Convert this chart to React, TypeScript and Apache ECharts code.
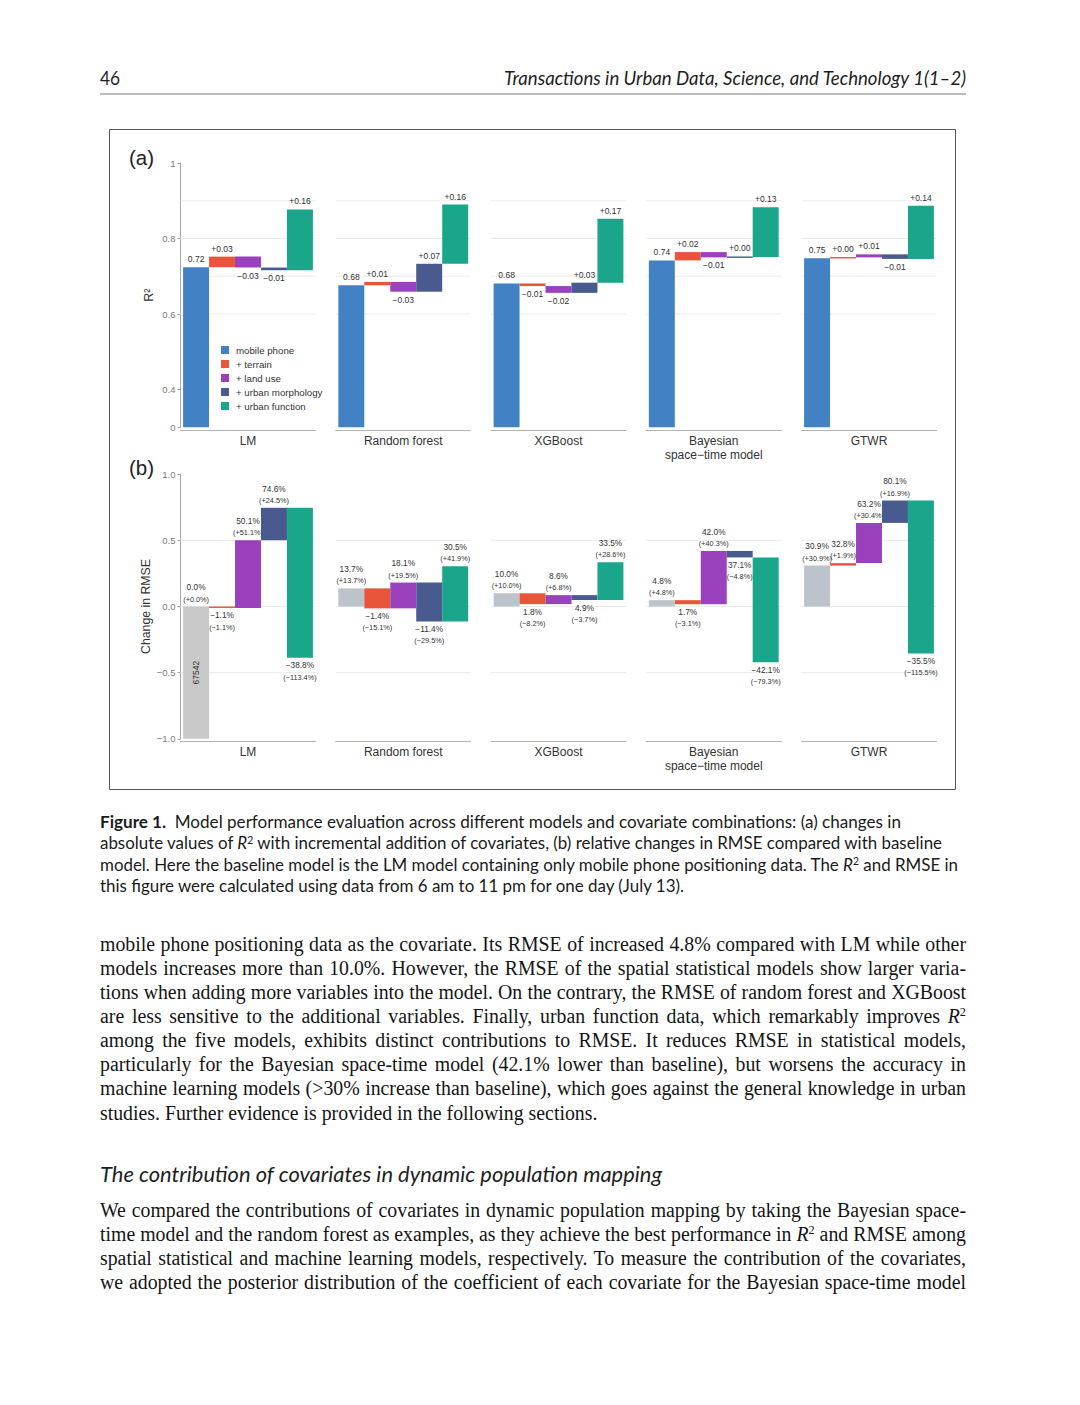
import React, { useEffect, useLayoutEffect, useRef } from "react";
import * as echarts from "echarts";

// ---------------- data ----------------
const MODELS = ["LM", "Random forest", "XGBoost", "Bayesian\nspace\u2212time model", "GTWR"];
const STEPS = ["mobile phone", "+ terrain", "+ land use", "+ urban morphology", "+ urban function"];
const STEP_COLORS = ["#4282c4", "#e9553b", "#9b41bd", "#485a8e", "#19a68b"];
const GREY_LM = "#c9c9c9";
const GREY = "#bdc3ca";

// (a) cumulative R² after each covariate is added
const R2_LM = [0.724, 0.752, 0.723, 0.716, 0.877];
const R2_RF = [0.676, 0.685, 0.659, 0.733, 0.89];
const R2_XGB = [0.681, 0.674, 0.656, 0.683, 0.852];
const R2_BST = [0.742, 0.764, 0.75, 0.751, 0.883];
const R2_GTWR = [0.748, 0.75, 0.758, 0.746, 0.887];

// (b) relative change in RMSE vs. baseline (%), level and step change
const RMSE_LEVEL_LM = [0.0, -1.1, 50.1, 74.6, -38.8];
const RMSE_CHANGE_LM = [0.0, -1.1, 51.1, 24.5, -113.4];
const RMSE_LEVEL_RF = [13.7, -1.4, 18.1, -11.4, 30.5];
const RMSE_CHANGE_RF = [13.7, -15.1, 19.5, -29.5, 41.9];
const RMSE_LEVEL_XGB = [10.0, 1.8, 8.6, 4.9, 33.5];
const RMSE_CHANGE_XGB = [10.0, -8.2, 6.8, -3.7, 28.6];
const RMSE_LEVEL_BST = [4.8, 1.7, 42.0, 37.1, -42.1];
const RMSE_CHANGE_BST = [4.8, -3.1, 40.3, -4.8, -79.3];
const RMSE_LEVEL_GTWR = [30.9, 32.8, 63.2, 80.1, -35.5];
const RMSE_CHANGE_GTWR = [30.9, 1.9, 30.4, 16.9, -115.5];
const BASELINE_RMSE = "67542";
const BASELINE_BAR = -100; // placeholder bar of the baseline model, in %

// axis ticks
const R2_ZERO = 0.3; // position of "0" on the broken R² axis
const R2_TICK_POS = [0.3, 0.4, 0.6, 0.8, 1.0];
const R2_TICK_TEXT = ["0", "0.4", "0.6", "0.8", "1"];
const R2_GRIDLINES = [0.6, 0.7, 0.8, 0.9];
const RMSE_GRIDLINES = [-0.5, 0, 0.5];

const R2_LEVELS = [R2_LM, R2_RF, R2_XGB, R2_BST, R2_GTWR];
const RMSE_LEVELS = [RMSE_LEVEL_LM, RMSE_LEVEL_RF, RMSE_LEVEL_XGB, RMSE_LEVEL_BST, RMSE_LEVEL_GTWR];
const RMSE_CHANGES = [RMSE_CHANGE_LM, RMSE_CHANGE_RF, RMSE_CHANGE_XGB, RMSE_CHANGE_BST, RMSE_CHANGE_GTWR];

// ---------------- layout ----------------
const FONT = '"Liberation Sans", Arial, sans-serif';
const FACET_LEFT0 = 180.5;
const FACET_STEP = 155.25;
const FACET_W = 135;
const A_TOP = 163;
const A_H = 264.25;
const B_TOP = 474.2;
const B_H = 264.6;
const X_MIN = -0.6;
const X_MAX = 4.6;

const MINUS = "\u2212";
const fmtDelta = (d: number) => (d < 0 ? MINUS : "+") + Math.abs(d).toFixed(2);
const fmtPct = (v: number) => (v < 0 ? MINUS : "") + Math.abs(v).toFixed(1) + "%";
const fmtPctChange = (v: number) => "(" + (v < 0 ? MINUS : "+") + Math.abs(v).toFixed(1) + "%)";

type LabelSpec = { lines: string[]; sizes: number[]; below: boolean; off: number; gap: number };

function barRender(color: string, lab: LabelSpec, inner?: string) {
  return (params: any, api: any) => {
    const s = api.value(0);
    const y0 = api.value(1);
    const y1 = api.value(2);
    const pA = api.coord([s - 0.5, Math.max(y0, y1)]);
    const pB = api.coord([s + 0.5, Math.min(y0, y1)]);
    let top = pA[1];
    let bot = pB[1];
    if (bot - top < 1.4) {
      const m = (top + bot) / 2;
      top = m - 0.7;
      bot = m + 0.7;
    }
    const cx = (pA[0] + pB[0]) / 2;
    const children: any[] = [
      { type: "rect", shape: { x: pA[0], y: top, width: pB[0] - pA[0], height: bot - top }, style: { fill: color } },
    ];
    const n = lab.lines.length;
    lab.lines.forEach((t, k) => {
      const y = lab.below ? bot + lab.off + k * lab.gap : top - lab.off - (n - 1 - k) * lab.gap;
      children.push({
        type: "text",
        x: cx,
        y,
        style: { text: t, fill: "#333", fontSize: lab.sizes[k], fontFamily: FONT, align: "center", verticalAlign: "middle" },
      });
    });
    if (inner) {
      const p = api.coord([s, (y0 + y1) / 2]);
      children.push({
        type: "text",
        x: p[0],
        y: p[1],
        rotation: Math.PI / 2,
        style: { text: inner, fill: "#333", fontSize: 8.5, fontFamily: FONT, align: "center", verticalAlign: "middle" },
      });
    }
    return { type: "group", children };
  };
}

function gridRender(params: any, api: any) {
  const v = api.value(1);
  const p0 = api.coord([X_MIN, v]);
  const p1 = api.coord([X_MAX, v]);
  return { type: "line", shape: { x1: p0[0], y1: p0[1], x2: p1[0], y2: p1[1] }, style: { stroke: "#ebebeb", lineWidth: 1 } };
}

function buildOption() {
  const grids: any[] = [];
  const xAxes: any[] = [];
  const yAxes: any[] = [];
  const series: any[] = [];

  for (let p = 0; p < 2; p++) {
    for (let f = 0; f < 5; f++) {
      const idx = p * 5 + f;
      grids.push({
        left: FACET_LEFT0 + f * FACET_STEP,
        top: p === 0 ? A_TOP : B_TOP,
        width: FACET_W,
        height: p === 0 ? A_H : B_H,
        containLabel: false,
        outerBoundsMode: "none",
      });
      xAxes.push({
        type: "value",
        gridIndex: idx,
        min: X_MIN,
        max: X_MAX,
        offset: p === 0 ? 3 : 2,
        axisLine: { show: true, onZero: false, lineStyle: { color: "#b3b3b3", width: 1 } },
        axisTick: { show: false },
        axisLabel: { show: false },
        splitLine: { show: false },
        name: MODELS[f],
        nameLocation: "middle",
        nameGap: 4,
        nameTextStyle: { fontSize: 12, color: "#333", fontFamily: FONT, lineHeight: 14, verticalAlign: "top" },
      });
      if (f === 0) {
        if (p === 0) {
          yAxes.push({
            type: "value",
            gridIndex: idx,
            min: 0.3,
            max: 1.0,
            interval: 0.1,
            axisLine: { show: true, onZero: false, lineStyle: { color: "#a6a6a6", width: 1 } },
            axisTick: { show: true, length: 3, lineStyle: { color: "#a6a6a6" }, customValues: R2_TICK_POS },
            axisLabel: {
              show: true,
              margin: 5,
              fontSize: 9.5,
              color: "#7a7a7a",
              fontFamily: FONT,
              formatter: (v: number) => {
                const k = R2_TICK_POS.findIndex((q) => Math.abs(q - v) < 1e-6);
                return k < 0 ? "" : R2_TICK_TEXT[k];
              },
            },
            splitLine: { show: false },
            name: "R\u00b2",
            nameLocation: "middle",
            nameGap: 25,
            nameTextStyle: { fontSize: 12.5, color: "#333", fontFamily: FONT },
          });
        } else {
          yAxes.push({
            type: "value",
            gridIndex: idx,
            min: -1,
            max: 1,
            interval: 0.5,
            axisLine: { show: true, onZero: false, lineStyle: { color: "#a6a6a6", width: 1 } },
            axisTick: { show: true, length: 3, lineStyle: { color: "#a6a6a6" } },
            axisLabel: {
              show: true,
              margin: 5,
              fontSize: 9.5,
              color: "#7a7a7a",
              fontFamily: FONT,
              formatter: (v: number) => (v < 0 ? MINUS : "") + Math.abs(v).toFixed(1),
            },
            splitLine: { show: false },
            name: "Change in RMSE",
            nameLocation: "middle",
            nameGap: 29,
            nameTextStyle: { fontSize: 12.3, color: "#333", fontFamily: FONT },
          });
        }
      } else {
        yAxes.push({
          type: "value",
          gridIndex: idx,
          min: p === 0 ? 0.3 : -1,
          max: 1,
          show: false,
          splitLine: { show: false },
        });
      }

      // gridlines
      const gl = p === 0 ? R2_GRIDLINES : RMSE_GRIDLINES;
      series.push({
        type: "custom",
        name: "gridlines",
        xAxisIndex: idx,
        yAxisIndex: idx,
        silent: true,
        z: 1,
        data: gl.map((v) => [0, v]),
        encode: { x: 0, y: 1 },
        renderItem: gridRender,
      });

      // bars
      for (let s = 0; s < 5; s++) {
        let from: number, to: number, lab: LabelSpec, color: string, inner: string | undefined;
        if (p === 0) {
          const lv = R2_LEVELS[f];
          from = s === 0 ? R2_ZERO : lv[s - 1];
          to = lv[s];
          const d = s === 0 ? 1 : lv[s] - lv[s - 1];
          lab = {
            lines: [s === 0 ? lv[0].toFixed(2) : fmtDelta(d)],
            sizes: [8.5],
            below: d < 0,
            off: 8,
            gap: 0,
          };
          color = STEP_COLORS[s];
        } else {
          const lv = RMSE_LEVELS[f];
          const ch = RMSE_CHANGES[f];
          from = s === 0 ? 0 : lv[s - 1] / 100;
          to = f === 0 && s === 0 ? BASELINE_BAR / 100 : lv[s] / 100;
          lab = { lines: [fmtPct(lv[s]), fmtPctChange(ch[s])], sizes: [8.3, 7.3], below: ch[s] < 0, off: 7.5, gap: 11.7 };
          color = s === 0 ? (f === 0 ? GREY_LM : GREY) : STEP_COLORS[s];
          if (f === 0 && s === 0) inner = BASELINE_RMSE;
        }
        series.push({
          type: "custom",
          name: p === 0 ? STEPS[s] : "b " + STEPS[s],
          xAxisIndex: idx,
          yAxisIndex: idx,
          silent: true,
          z: 3,
          itemStyle: { color },
          data: [[s, from, to]],
          encode: { x: 0, y: [1, 2] },
          renderItem: barRender(color, lab, inner),
        });
      }
    }
  }

  return {
    animation: false,
    backgroundColor: "#ffffff",
    textStyle: { fontFamily: FONT },
    grid: grids,
    xAxis: xAxes,
    yAxis: yAxes,
    series,
    legend: {
      data: STEPS,
      orient: "vertical",
      left: 221,
      top: 344,
      padding: 0,
      itemWidth: 8,
      itemHeight: 8,
      itemGap: 2,
      icon: "rect",
      selectedMode: false,
      textStyle: { fontSize: 9.7, color: "#333", fontFamily: FONT, lineHeight: 12, padding: [0, 0, 0, 2] },
    },
    graphic: [
      {
        type: "rect",
        silent: true,
        shape: { x: 109.5, y: 129.5, width: 846, height: 660 },
        style: { fill: "transparent", stroke: "#555", lineWidth: 1 },
      },
      { type: "line", silent: true, shape: { x1: 100, y1: 94, x2: 966, y2: 94 }, style: { stroke: "#7a7a7a", lineWidth: 1.2 } },
      { type: "text", x: 129, y: 157, style: { text: "(a)", fontSize: 20.5, fontFamily: FONT, fill: "#222", verticalAlign: "middle" } },
      { type: "text", x: 129, y: 467, style: { text: "(b)", fontSize: 20.5, fontFamily: FONT, fill: "#222", verticalAlign: "middle" } },
    ],
  };
}

// ---------------- page text ----------------
const SANS = 'Lato, "Noto Sans", sans-serif';
const SERIF = '"Liberation Serif", "Times New Roman", serif';
const BODY_LEFT = 100;
const BODY_W = 866;

const Sup = ({ children }: any) => (
  <span style={{ fontSize: "0.62em", position: "relative", top: "-0.55em", lineHeight: 0 }}>{children}</span>
);
const R2 = () => (
  <>
    <i>R</i>
    <Sup>2</Sup>
  </>
);

function FitText({ left, top, width, style, children }: any) {
  const ref = useRef<HTMLDivElement>(null);
  useLayoutEffect(() => {
    const el = ref.current;
    if (!el) return;
    el.style.transform = "none";
    const nat = el.getBoundingClientRect().width;
    if (nat > 0) el.style.transform = `scaleX(${width / nat})`;
  }, [width]);
  return (
    <div
      ref={ref}
      style={{ position: "absolute", left, top, whiteSpace: "nowrap", transformOrigin: "0 0", lineHeight: "normal", ...style }}
    >
      {children}
    </div>
  );
}

type BodyLine = { y: number; justify: boolean; content: any };

const BODY_LINES: BodyLine[] = [
  { y: 945, justify: true, content: "mobile phone positioning data as the covariate. Its RMSE of increased 4.8% compared with LM while other" },
  { y: 969.1, justify: true, content: "models increases more than 10.0%. However, the RMSE of the spatial statistical models show larger varia-" },
  { y: 993.3, justify: true, content: "tions when adding more variables into the model. On the contrary, the RMSE of random forest and XGBoost" },
  {
    y: 1017.4,
    justify: true,
    content: (
      <>
        are less sensitive to the additional variables. Finally, urban function data, which remarkably improves <R2 />
      </>
    ),
  },
  { y: 1041.6, justify: true, content: "among the five models, exhibits distinct contributions to RMSE. It reduces RMSE in statistical models," },
  { y: 1065.7, justify: true, content: "particularly for the Bayesian space-time model (42.1% lower than baseline), but worsens the accuracy in" },
  { y: 1089.9, justify: true, content: "machine learning models (>30% increase than baseline), which goes against the general knowledge in urban" },
  { y: 1114, justify: false, content: "studies. Further evidence is provided in the following sections." },
  { y: 1211, justify: true, content: "We compared the contributions of covariates in dynamic population mapping by taking the Bayesian space-" },
  {
    y: 1235.2,
    justify: true,
    content: (
      <>
        time model and the random forest as examples, as they achieve the best performance in <R2 /> and RMSE among
      </>
    ),
  },
  { y: 1259.5, justify: true, content: "spatial statistical and machine learning models, respectively. To measure the contribution of the covariates," },
  { y: 1283.7, justify: true, content: "we adopted the posterior distribution of the coefficient of each covariate for the Bayesian space-time model" },
];

function Body() {
  const refs = useRef<(HTMLDivElement | null)[]>([]);
  useLayoutEffect(() => {
    const els = refs.current;
    const nat = els.map((el) => {
      if (!el) return 1;
      el.style.transform = "none";
      el.style.wordSpacing = "0px";
      return el.getBoundingClientRect().width;
    });
    let c = Infinity;
    BODY_LINES.forEach((ln, i) => {
      if (ln.justify) c = Math.min(c, BODY_W / nat[i]);
    });
    els.forEach((el, i) => {
      if (!el) return;
      if (BODY_LINES[i].justify) {
        const n = ((el.textContent || "").match(/ /g) || []).length;
        const ws = n ? (BODY_W / c - nat[i]) / n : 0;
        el.style.wordSpacing = ws + "px";
      }
      el.style.transform = `scaleX(${c})`;
    });
  }, []);
  return (
    <>
      {BODY_LINES.map((ln, i) => (
        <div
          key={i}
          ref={(el) => {
            refs.current[i] = el;
          }}
          style={{
            position: "absolute",
            left: BODY_LEFT,
            top: ln.y - 12.5,
            whiteSpace: "nowrap",
            transformOrigin: "0 0",
            fontFamily: SERIF,
            fontSize: 20,
            lineHeight: "normal",
            color: "#141414",
          }}
        >
          {ln.content}
        </div>
      ))}
    </>
  );
}

const CAP_FS = 17;
const CAPTION_LINES = [
  {
    y: 822,
    w: 801,
    content: (
      <>
        <b>Figure 1.</b>
        {"\u00a0 "}Model performance evaluation across different models and covariate combinations: (a) changes in
      </>
    ),
  },
  {
    y: 843.5,
    w: 842,
    content: (
      <>
        absolute values of <R2 /> with incremental addition of covariates, (b) relative changes in RMSE compared with baseline
      </>
    ),
  },
  {
    y: 865,
    w: 858,
    content: (
      <>
        model. Here the baseline model is the LM model containing only mobile phone positioning data. The <R2 /> and RMSE in
      </>
    ),
  },
  { y: 886, w: 584, content: "this figure were calculated using data from 6 am to 11 pm for one day (July 13)." },
];

function PageText() {
  return (
    <div style={{ position: "absolute", left: 0, top: 0, width: 1080, height: 1405, pointerEvents: "none", zIndex: 2 }}>
      <FitText left={100} top={78 - 12.5} width={20} style={{ fontFamily: SANS, fontSize: 19, color: "#1e1e1e" }}>
        46
      </FitText>
      <FitText left={966 - 462} top={78 - 12.5} width={462} style={{ fontFamily: SANS, fontSize: 19, fontStyle: "italic", color: "#1e1e1e" }}>
        Transactions in Urban Data, Science, and Technology 1(1{"\u2013"}2)
      </FitText>
      {CAPTION_LINES.map((ln, i) => (
        <FitText key={i} left={100} top={ln.y - 11.2} width={ln.w} style={{ fontFamily: SANS, fontSize: CAP_FS, color: "#1a1a1a" }}>
          {ln.content}
        </FitText>
      ))}
      <FitText left={100} top={1174 - 14.5} width={562} style={{ fontFamily: SANS, fontSize: 22, fontStyle: "italic", color: "#1e1e1e" }}>
        The contribution of covariates in dynamic population mapping
      </FitText>
      <Body />
    </div>
  );
}

export default function App() {
  const ref = useRef<HTMLDivElement>(null);
  useEffect(() => {
    document.body.style.margin = "0";
    if (!ref.current) return;
    const chart = echarts.init(ref.current, null, { renderer: "svg" });
    chart.setOption(buildOption() as any);
    return () => chart.dispose();
  }, []);
  return (
    <div style={{ position: "absolute", left: 0, top: 0, width: 1080, height: 1405, background: "#fff", overflow: "hidden" }}>
      <div ref={ref} style={{ position: "absolute", left: 0, top: 0, width: 1080, height: 1405 }} />
      <PageText />
    </div>
  );
}
